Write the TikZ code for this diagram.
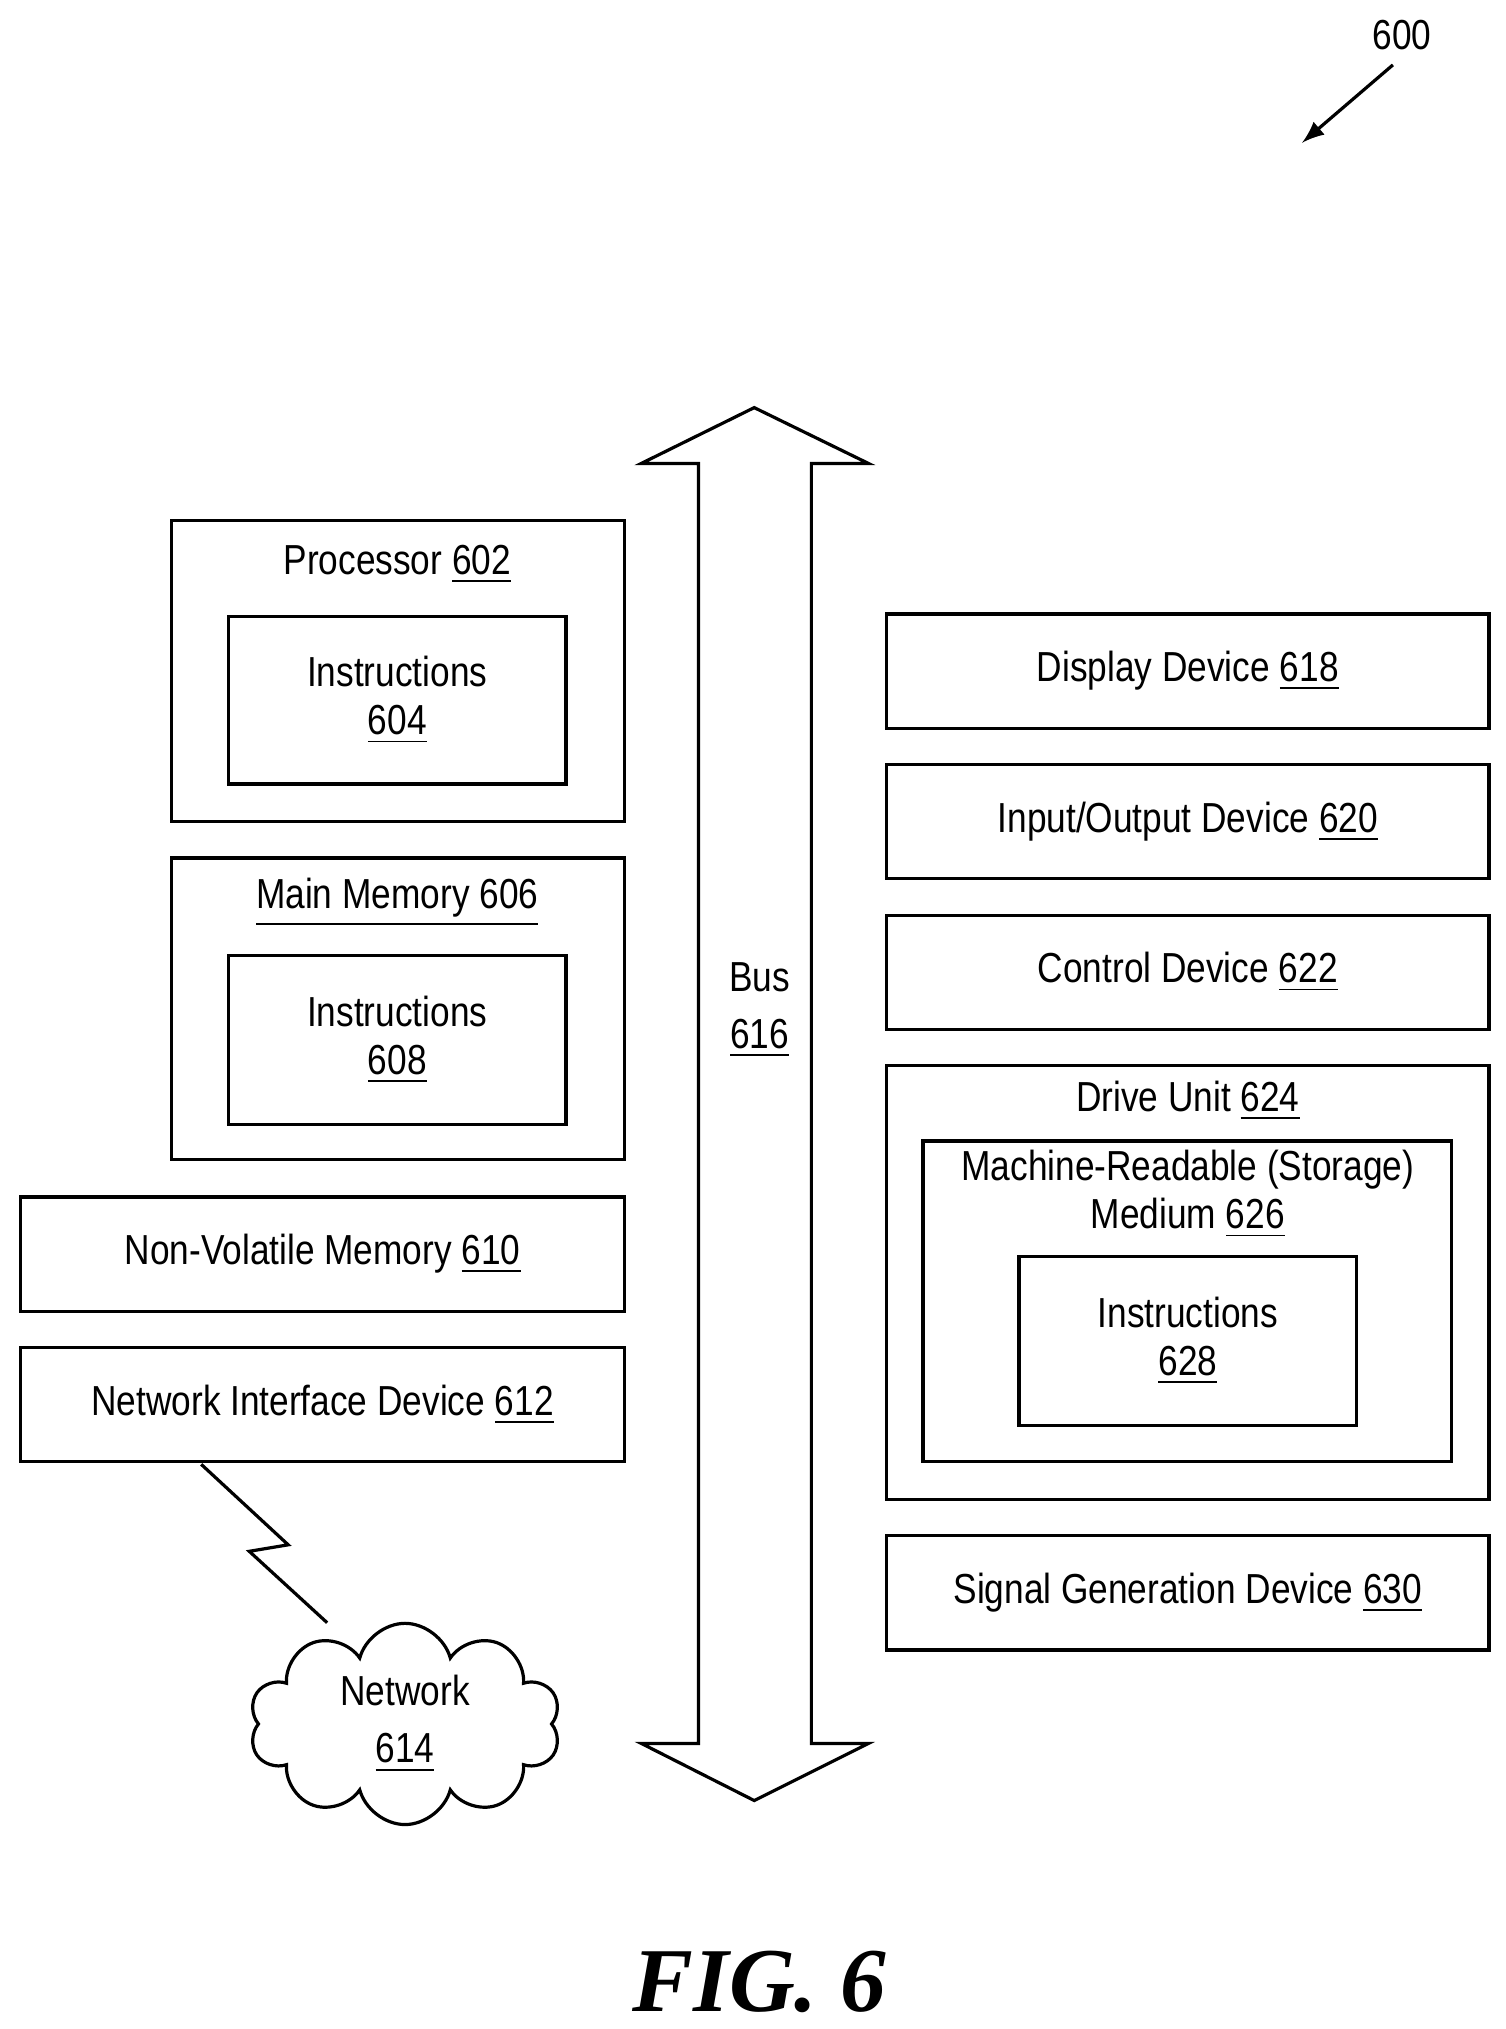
\documentclass[tikz,border=0pt]{standalone}
\usepackage{fontspec}
\setmainfont{Liberation Sans}[FakeStretch=0.84]
\newfontfamily\figfont{Liberation Serif}
\usetikzlibrary{shapes.symbols}
\tikzstyle{unit_box}=[rectangle, draw=black, line width=0.7pt, inner sep=0pt]
\tikzstyle{lbl}=[font=\fontsize{9.2}{10.5}\selectfont, align=center]
\newcommand{\refnum}[1]{\underline{#1}}

\begin{document}
\begin{tikzpicture}[x=0.1mm, y=-0.1mm]
  \useasboundingbox (0,0) rectangle (1160,1563);
  % left column
  \node at (306.5, 517) (P) [unit_box, minimum width=349*0.1mm, minimum height=232*0.1mm] {};
  \node at (306, 435) (Pt) [lbl] {Processor \refnum{602}};
  \node at (306, 539.5) (I1) [unit_box, lbl, minimum width=260*0.1mm, minimum height=129*0.1mm] {Instructions\\\refnum{604}};
  \node at (306.5, 777) (M) [unit_box, minimum width=349*0.1mm, minimum height=232*0.1mm] {};
  \node at (306, 695) (Mt) [lbl] {\underline{Main Memory 606}};
  \node at (306, 801) (I2) [unit_box, lbl, minimum width=260*0.1mm, minimum height=130*0.1mm] {Instructions\\\refnum{608}};
  \node at (248.5, 966) (NV) [unit_box, lbl, minimum width=465*0.1mm, minimum height=88*0.1mm] {Non-Volatile Memory \refnum{610}};
  \node at (248.5, 1082) (NI) [unit_box, lbl, minimum width=465*0.1mm, minimum height=88*0.1mm] {Network Interface Device \refnum{612}};
  \node at (312, 1328) (N) [cloud, draw, line width=0.7pt, cloud puffs=10, aspect=1.5, inner sep=-4pt, minimum width=240*0.1mm, minimum height=155*0.1mm, lbl] {Network\\[2pt]\refnum{614}};
  \draw[line width=0.7pt] (155,1128) -- (222,1190) -- (192,1195) -- (252,1250);

  % bus
  \draw[line width=0.7pt] (538,1343) -- (538,357) -- (494,357) -- (581,314) -- (669,357)
    -- (625,357) -- (625,1343) -- (669,1343) -- (581,1387) -- (494,1343) -- cycle;
  \node at (585, 778) (B) [lbl] {Bus\\[2pt]\refnum{616}};

  % right column
  \node at (915, 517) (D) [unit_box, lbl, minimum width=464*0.1mm, minimum height=88*0.1mm] {Display Device \refnum{618}};
  \node at (915, 633) (IO) [unit_box, lbl, minimum width=464*0.1mm, minimum height=88*0.1mm] {Input/Output Device \refnum{620}};
  \node at (915, 749) (C) [unit_box, lbl, minimum width=464*0.1mm, minimum height=88*0.1mm] {Control Device \refnum{622}};
  \node at (915, 988) (DU) [unit_box, minimum width=464*0.1mm, minimum height=334*0.1mm] {};
  \node at (915, 848) (DUt) [lbl] {Drive Unit \refnum{624}};
  \node at (914.5, 1002.5) (MR) [unit_box, minimum width=407*0.1mm, minimum height=247*0.1mm] {};
  \node at (915, 920) (MRt) [lbl] {Machine-Readable (Storage)\\Medium \refnum{626}};
  \node at (915, 1033) (I3) [unit_box, lbl, minimum width=260*0.1mm, minimum height=130*0.1mm] {Instructions\\\refnum{628}};
  \node at (915, 1227) (S) [unit_box, lbl, minimum width=464*0.1mm, minimum height=88*0.1mm] {Signal Generation Device \refnum{630}};

  % figure label
  \node at (1080, 27) (R) [lbl] {600};
  \coordinate (Rt) at (1003,110);
  \draw[-latex, line width=0.7pt] (1073,50) -- (Rt);
  \node at (585, 1527) (F) [font=\figfont\bfseries\itshape\fontsize{20}{22}\selectfont] {FIG. 6};
\end{tikzpicture}
\end{document}
